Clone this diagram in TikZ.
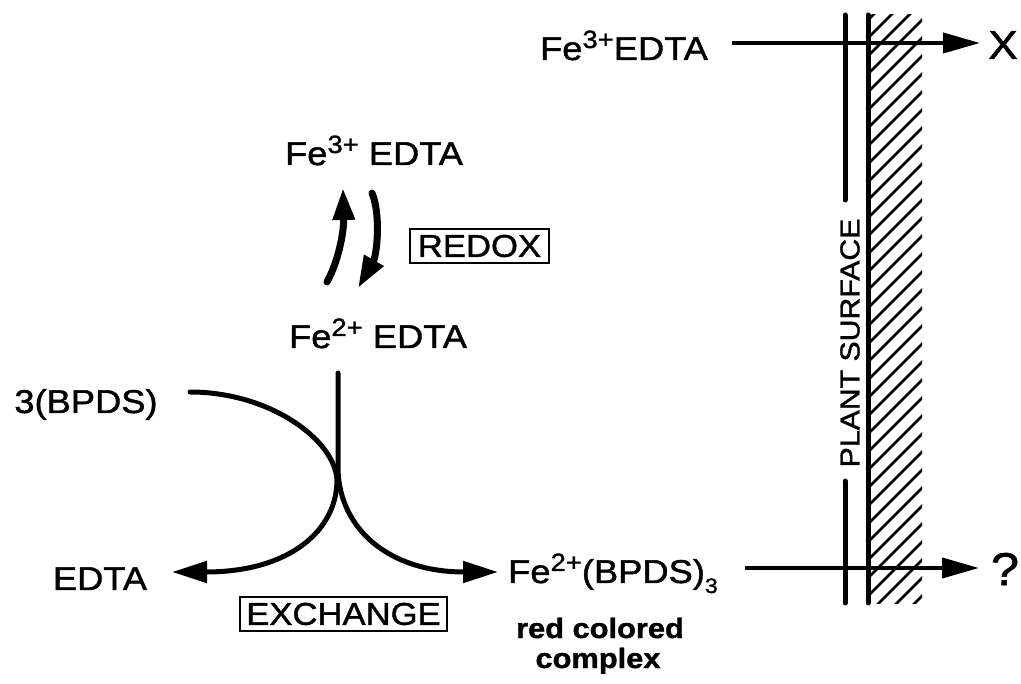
\documentclass[tikz,border=0pt]{standalone}
\usepackage{fontspec}
\setmainfont{Liberation Sans}[FakeStretch=1.1, FakeBold=1.3]
\usetikzlibrary{arrows.meta}
\newcommand\supx[1]{\raisebox{12pt}{\fontsize{25}{25}\selectfont #1}}
\newcommand\subx[1]{\raisebox{-10pt}{\fontsize{21}{21}\selectfont #1}}
\begin{document}
\begin{tikzpicture}[x=1pt,y=-1pt,
  lab/.style={font=\fontsize{33}{38}\selectfont, inner sep=0pt, anchor=base},
  boxlab/.style={font=\fontsize{31.5}{36}\selectfont, draw, line width=2pt, inner sep=0pt, minimum width=#1, minimum height=34pt},
  harrow/.style={line width=4pt, -{Triangle[length=37pt,width=20pt]}},
  xline/.style={line width=5pt, line cap=round},
  xarrow/.style={xline, -{Triangle[length=35pt,width=21pt]}},
  rarrow/.style={line width=7pt, line cap=round, -{Triangle[length=32pt,width=21pt]}},
  surf/.style={line width=5pt, line cap=round},
  hatch/.style={line width=2.6pt}]
\useasboundingbox[fill=white] (0,0) rectangle (1021,684);

% labels
\node[lab] (topfe) at (624,60) {Fe\supx{3+}EDTA};
\node[lab, font=\fontsize{40}{44}\selectfont, anchor=center] (X) at (1003,45) {X};
\node[lab] (fe3) at (374,165) {Fe\supx{3+} EDTA};
\node[lab] (fe2) at (378,348) {Fe\supx{2+} EDTA};
\node[lab] (bpds) at (86,413) {3(BPDS)};
\node[lab] (edta) at (100,590) {EDTA};
\node[lab, anchor=base west] (fe2bpds) at (508,583) {Fe\supx{2+}(BPDS)\subx{3}};
\node[lab, font=\fontsize{28}{30}\selectfont\bfseries] (red) at (600,638) {red colored};
\node[lab, font=\fontsize{28}{30}\selectfont\bfseries] (cplx) at (598,668) {complex};
\node[lab, font=\fontsize{46}{50}\selectfont, anchor=center] (q) at (1005,569) {?};
\node[boxlab=139pt] (redox) at (479.5,246) {REDOX};
\node[boxlab=207pt] (exch) at (343.5,614) {EXCHANGE};
\node[lab, font=\fontsize{27.5}{32}\selectfont, anchor=center, rotate=90] (plant) at (850,343) {PLANT SURFACE};

% plant surface
\coordinate (s1top) at (845,15);
\coordinate (s1a) at (845,200);
\coordinate (s1b) at (845,481);
\coordinate (s1bot) at (845,603);
\coordinate (s2top) at (868,15);
\coordinate (s2bot) at (868,603);
\draw[surf] (s1top) -- (s1a);
\draw[surf] (s1b) -- (s1bot);
\draw[surf] (s2top) -- (s2bot);
\begin{scope}
  \clip (868,15) rectangle (922,603);
  \foreach \y in {20,38,...,700} \draw[hatch] (868,\y) -- ++(70,-70);
\end{scope}

% horizontal arrows
\coordinate (t1) at (732,43);
\coordinate (t2) at (980,43);
\draw[harrow] (t1) -- (t2);
\coordinate (b1) at (745,568);
\coordinate (b2) at (979,568);
\draw[harrow] (b1) -- (b2);

% redox arrows
\coordinate (ru0) at (327,282);
\coordinate (ru1) at (343,188);
\draw[rarrow] (ru0) .. controls (340,258) and (344,228) .. (ru1);
\coordinate (rd0) at (372,193);
\coordinate (rd1) at (358,288);
\draw[rarrow] (rd0) .. controls (381,215) and (377,255) .. (rd1);

% exchange
\coordinate (v0) at (338,373);
\coordinate (tipR) at (498,572);
\coordinate (b0) at (190,392);
\coordinate (tipL) at (172,572);
\draw[xarrow] (v0) -- (338,470) .. controls (340,530) and (390,572) .. (tipR);
\draw[xarrow] (b0) .. controls (270,392) and (335,440) .. (337,480) .. controls (337,530) and (290,572) .. (tipL);
\end{tikzpicture}
\end{document}
